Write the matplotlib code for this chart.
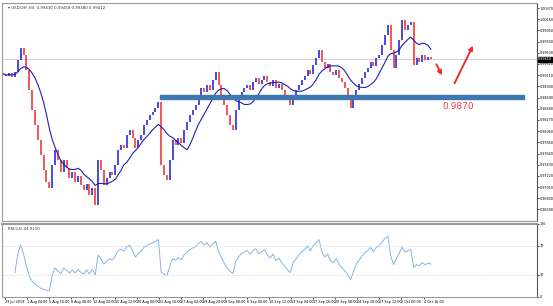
import numpy as np
import pandas as pd
import matplotlib.pyplot as plt
from matplotlib.patches import Rectangle

# USDCHF, one candle per ~8h, closes
first_open = 0.9915
closes = [
    0.9913, 0.9909, 0.9915, 0.9908, 0.9917, 0.9939, 0.9962, 0.9949, 0.9921, 0.9883,
    0.9846, 0.9818, 0.9789, 0.9761, 0.9733, 0.9711, 0.9699, 0.9743, 0.9771, 0.9752,
    0.9729, 0.9752, 0.9737, 0.9718, 0.9729, 0.9711, 0.9722, 0.9705, 0.9696, 0.9707,
    0.9686, 0.9699, 0.9668, 0.9752, 0.9733, 0.9705, 0.9718, 0.9729, 0.9724, 0.9743,
    0.9771, 0.9780, 0.9774, 0.9799, 0.9808, 0.9793, 0.9774, 0.9789, 0.9799, 0.9818,
    0.9827, 0.9836, 0.9842, 0.9849, 0.9861, 0.9743, 0.9724, 0.9714, 0.9752, 0.9789,
    0.9780, 0.9793, 0.9784, 0.9808, 0.9823, 0.9836, 0.9846, 0.9855, 0.9874, 0.9887,
    0.9879, 0.9893, 0.9883, 0.9902, 0.9917, 0.9893, 0.9874, 0.9855, 0.9836, 0.9818,
    0.9808, 0.9846, 0.9864, 0.9879, 0.9887, 0.9893, 0.9883, 0.9898, 0.9906, 0.9894,
    0.9902, 0.9909, 0.9898, 0.9891, 0.9902, 0.9887, 0.9894, 0.9883, 0.9874, 0.9864,
    0.9855, 0.9874, 0.9883, 0.9893, 0.9902, 0.9909, 0.9921, 0.9913, 0.9930, 0.9943,
    0.9958, 0.9936, 0.9924, 0.9932, 0.9917, 0.9911, 0.9921, 0.9906, 0.9898, 0.9887,
    0.9874, 0.9849, 0.9864, 0.9883, 0.9894, 0.9906, 0.9917, 0.9924, 0.9936, 0.9928,
    0.9943, 0.9949, 0.9968, 0.9986, 1.0005, 0.9958, 0.9924, 0.9949, 0.9977, 1.0014,
    0.9996, 1.0005, 1.0011, 0.9930, 0.9943, 0.9936, 0.9949, 0.9939, 0.9945, 0.9941,
]
support = 0.9870
price_ticks = [1.00370, 1.00160, 0.99950, 0.99740, 0.99530, 0.99320, 0.99110, 0.98900,
               0.98690, 0.98480, 0.98270, 0.98060, 0.97850, 0.97640, 0.97430, 0.97220,
               0.97010, 0.96800, 0.96590]
date_labels = ["29 Jul 2019", "1 Aug 04:00", "5 Aug 16:00", "8 Aug 08:00", "12 Aug 20:00",
               "15 Aug 12:00", "20 Aug 00:00", "22 Aug 16:00", "27 Aug 04:00", "29 Aug 20:00",
               "3 Sep 08:00", "6 Sep 00:00", "10 Sep 12:00", "13 Sep 04:00", "17 Sep 16:00",
               "20 Sep 08:00", "24 Sep 20:00", "27 Sep 12:00", "2 Oct 00:00", "4 Oct 16:00"]

df = pd.DataFrame({"close": closes})
df["open"] = df["close"].shift(1).fillna(first_open)
df["ma"] = df["close"].rolling(10, min_periods=1).mean()
d = df["close"].diff()
up = d.clip(lower=0).ewm(alpha=1 / 8, adjust=False, min_periods=4).mean()
dn = (-d.clip(upper=0)).ewm(alpha=1 / 8, adjust=False, min_periods=4).mean()
df["rsi"] = 100 - 100 / (1 + up / dn)

blue = "#2b2bd8"
red = "#f03a3a"
grey = "#9a9a9a"

fig = plt.figure(figsize=(5.53, 3.06), dpi=100)
ax = fig.add_axes([0.0036, 0.278, 0.9675, 0.712])
ax2 = fig.add_axes([0.0036, 0.030, 0.9675, 0.238])

x = np.arange(len(df))
for i in x:
    o, c = df["open"][i], df["close"][i]
    col = blue if c >= o else red
    ax.plot([i, i], [min(o, c), max(o, c)], color=col, lw=1.2, solid_capstyle="butt")
ax.plot(x, df["ma"], color="#2020b0", lw=0.8)

ax.set_xlim(-0.5, 186)
ax.set_ylim(0.96375, 1.00463)

# support band + annotation
ax.add_patch(Rectangle((54.7, support - 0.00045), 126.8, 0.0009, color="#3d78b0", zorder=3))
ax.text(158.5, 0.9853, "0.9870", color="#e8413c", fontsize=6.5, ha="center", va="center")
ax.annotate("", xy=(153.3, 0.9906), xytext=(150.5, 0.9936),
            arrowprops=dict(arrowstyle="-|>", color="#e8302a", lw=1.4, mutation_scale=6))
ax.annotate("", xy=(164.1, 0.9971), xytext=(156.8, 0.9891),
            arrowprops=dict(arrowstyle="-|>", color="#e8302a", lw=1.4, mutation_scale=6))

# bid line
last = closes[-1]
ax.axhline(last, color="#c8c8c8", lw=0.6, zorder=0)

ax.yaxis.tick_right()
ax.set_yticks(price_ticks)
ax.set_yticklabels([f"{t:.5f}" for t in price_ticks], fontsize=2.4)
ax.tick_params(axis="y", length=1.5, width=0.5, pad=0.5)
ax.set_xticks([])
ax.text(1.002, last, f"{last:.5f}", transform=ax.get_yaxis_transform(), fontsize=2.4,
        color="white", va="center", ha="left",
        bbox=dict(boxstyle="square,pad=0.1", fc="black", ec="black"))
ax.text(0.012, 0.985, "▾ USDCHF,H4  0.99430 0.99458 0.99380 0.99412", transform=ax.transAxes,
        fontsize=2.8, va="top", ha="left", color="#333333")

# RSI pane
ax2.plot(x, df["rsi"], color="#86b4e8", lw=0.7)
ax2.axhline(70, color="#dddddd", lw=0.5, ls="--")
ax2.axhline(30, color="#dddddd", lw=0.5, ls="--")
ax2.set_xlim(-0.5, 186)
ax2.set_ylim(0, 100)
ax2.yaxis.tick_right()
ax2.set_yticks([0, 30, 70, 100])
ax2.set_yticklabels(["0", "30", "70", "100"], fontsize=2.4)
ax2.tick_params(axis="y", length=1.5, width=0.5, pad=0.5)
ax2.text(0.012, 0.96, f"RSI(14) {df['rsi'].iloc[-1]:.4f}", transform=ax2.transAxes,
         fontsize=2.8, va="top", ha="left", color="#333333")

pos = np.arange(len(date_labels)) * 7.67 + 0.7
ax2.set_xticks(pos)
ax2.set_xticklabels(date_labels, fontsize=2.4, ha="left")
ax2.tick_params(axis="x", length=1.5, width=0.5, pad=0.8)

for a in (ax, ax2):
    for s in a.spines.values():
        s.set_color(grey)
        s.set_linewidth(0.8)
    a.spines["right"].set_color("#555555")
ax2.spines["top"].set_linewidth(1.5)

fig.savefig("out.png", dpi=100)
